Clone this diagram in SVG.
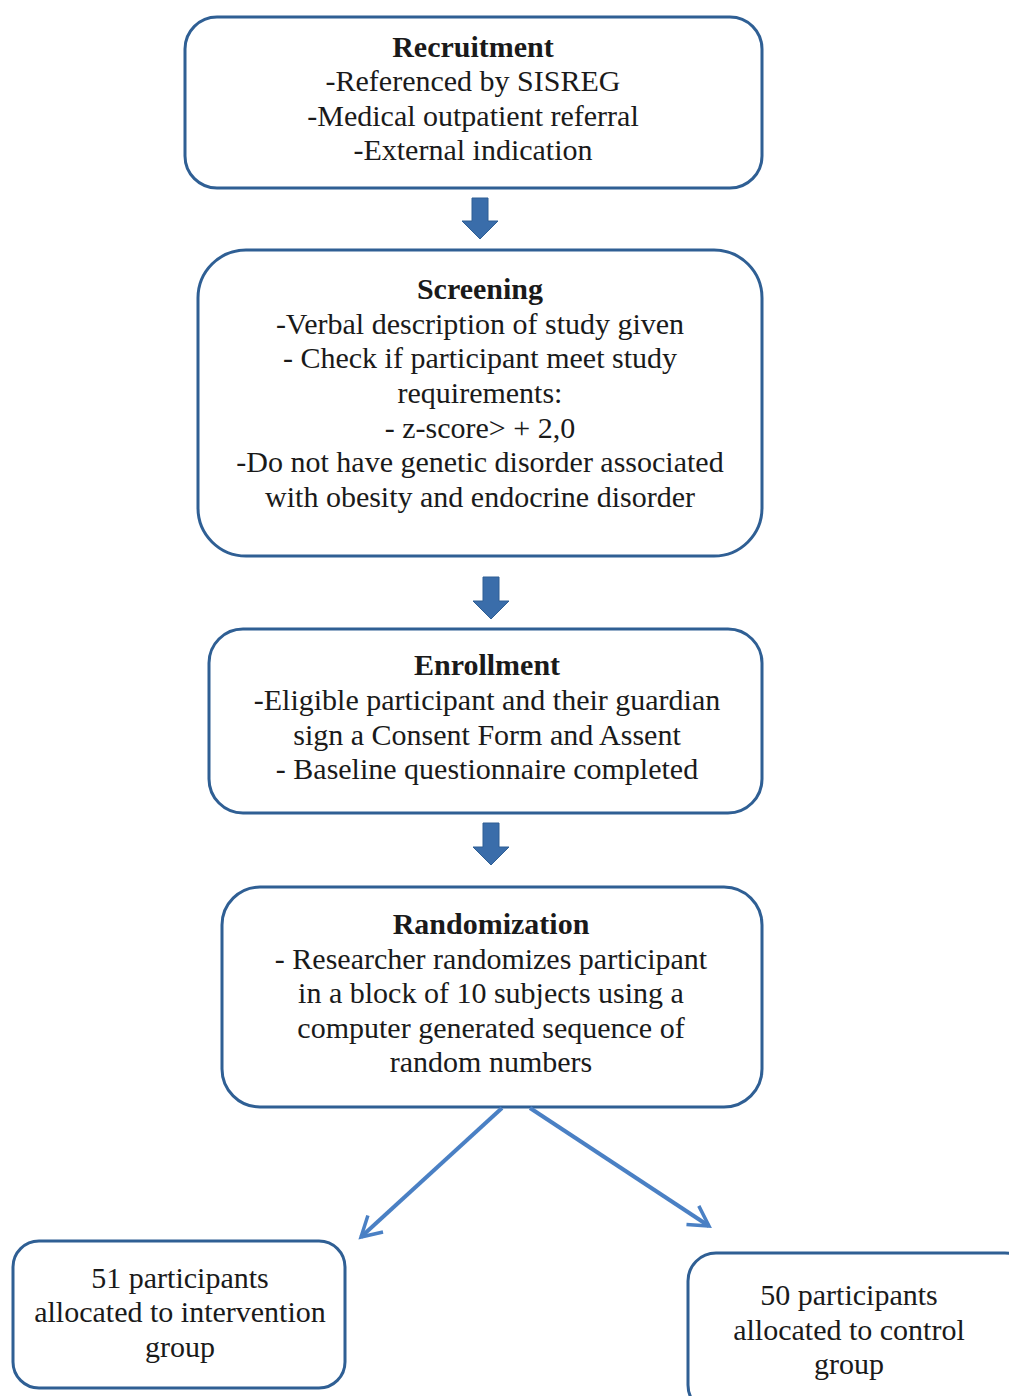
<svg xmlns="http://www.w3.org/2000/svg" width="1009" height="1396" viewBox="0 0 1009 1396">
<defs>
<style>
.box{fill:#fff;stroke:#2f5f94;stroke-width:3}
.t{font-family:"Liberation Serif","Times New Roman",serif;font-size:30px;fill:#1a1a1a;text-anchor:middle}
.b{font-weight:bold}
.blk{fill:#3a6daa;stroke:#2f5f94;stroke-width:1}
.diag{stroke:#4a80c4;stroke-width:4;fill:none;marker-end:url(#ah)}
</style>
<marker id="ah" viewBox="0 0 20 20" refX="16" refY="10" markerWidth="7" markerHeight="7" orient="auto" markerUnits="strokeWidth">
<path d="M2,2 L16,10 L2,18" fill="none" stroke="#4a80c4" stroke-width="2.5"/>
</marker>
</defs>
<rect width="1009" height="1396" fill="#fff"/>
<g id="recruitment">
<rect class="box" x="185" y="17" width="577" height="171" rx="32"/>
<text class="t b" x="473" y="57">Recruitment</text>
<text class="t" x="473" y="91">-Referenced by SISREG</text>
<text class="t" x="473" y="126">-Medical outpatient referral</text>
<text class="t" x="473" y="160">-External indication</text>
</g>
<g id="screening">
<rect class="box" x="198" y="250" width="564" height="306" rx="48"/>
<text class="t b" x="480" y="299">Screening</text>
<text class="t" x="480" y="334">-Verbal description of study given</text>
<text class="t" x="480" y="368">- Check if participant meet study</text>
<text class="t" x="480" y="403">requirements:</text>
<text class="t" x="480" y="438">- z-score&gt; + 2,0</text>
<text class="t" x="480" y="472">-Do not have genetic disorder associated</text>
<text class="t" x="480" y="507">with obesity and endocrine disorder</text>
</g>
<g id="enrollment">
<rect class="box" x="209" y="629" width="553" height="184" rx="34"/>
<text class="t b" x="487" y="675">Enrollment</text>
<text class="t" x="487" y="710">-Eligible participant and their guardian</text>
<text class="t" x="487" y="745">sign a Consent Form and Assent</text>
<text class="t" x="487" y="779">- Baseline questionnaire completed</text>
</g>
<g id="randomization">
<rect class="box" x="222" y="887" width="540" height="220" rx="38"/>
<text class="t b" x="491" y="934">Randomization</text>
<text class="t" x="491" y="969">- Researcher randomizes participant</text>
<text class="t" x="491" y="1003">in a block of 10 subjects using a</text>
<text class="t" x="491" y="1038">computer generated sequence of</text>
<text class="t" x="491" y="1072">random numbers</text>
</g>
<g id="intervention">
<rect class="box" x="13" y="1241" width="332" height="147" rx="26"/>
<text class="t" x="180" y="1288">51 participants</text>
<text class="t" x="180" y="1322">allocated to intervention</text>
<text class="t" x="180" y="1357">group</text>
</g>
<g id="control">
<rect class="box" x="688" y="1253" width="345" height="160" rx="28"/>
<text class="t" x="849" y="1305">50 participants</text>
<text class="t" x="849" y="1340">allocated to control</text>
<text class="t" x="849" y="1374">group</text>
</g>
<g id="connectors">
<path class="blk" d="M472,198 H488 V221 H498 L480,239 L462,221 H472 Z"/>
<path class="blk" d="M483,577 H499 V601 H509 L491,619 L473,601 H483 Z"/>
<path class="blk" d="M483,823 H499 V847 H509 L491,865 L473,847 H483 Z"/>
<line class="diag" x1="502" y1="1108" x2="361" y2="1237"/>
<line class="diag" x1="530" y1="1108" x2="709" y2="1226"/>
</g>
</svg>
